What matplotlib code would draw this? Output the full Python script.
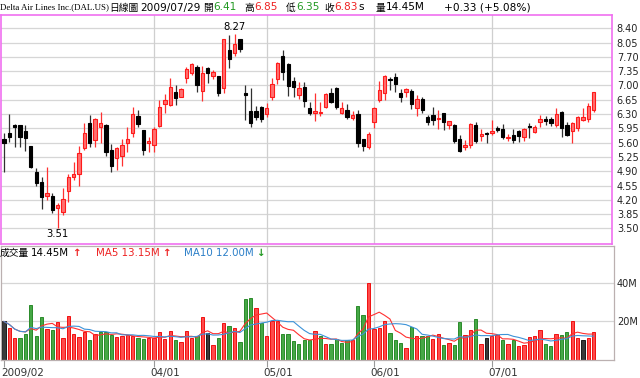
import numpy as np
import pandas as pd
import matplotlib
matplotlib.use("Agg")
import matplotlib.pyplot as plt
from matplotlib.transforms import blended_transform_factory

plt.rcParams['font.family'] = ['DejaVu Sans', 'Noto Sans CJK TC']

# trading days 2009-02-20 .. 2009-07-29 (NYSE holidays removed)
holidays = pd.to_datetime(["2009-04-10", "2009-05-25", "2009-07-03"])
dates = pd.bdate_range("2009-02-20", "2009-07-29")
dates = dates[~dates.isin(holidays)]

opens = [5.70, 5.83, 6.03, 6.03, 5.88, 5.52, 4.89, 4.64, 4.30, 4.29,
         4.00, 3.91, 4.42, 4.77, 4.83, 5.46, 6.07, 5.66, 5.99, 6.04,
         5.42, 5.22, 5.28, 5.59, 5.83, 6.25, 5.90, 5.59, 5.54, 6.01,
         6.55, 6.52, 6.85, 6.73, 7.19, 7.30, 7.45, 6.87, 7.44, 7.23,
         7.22, 6.93, 7.88, 7.80, 8.13, 6.82, 6.38, 6.38, 6.48, 6.29,
         6.73, 7.15, 7.72, 7.53, 7.12, 6.77, 6.97, 6.44, 6.32, 6.33,
         6.48, 6.81, 6.93, 6.32, 6.40, 6.20, 6.30, 5.68, 5.49, 6.11,
         6.64, 6.82, 7.15, 7.20, 6.81, 6.85, 6.87, 6.44, 6.68, 6.22,
         6.28, 6.17, 6.32, 6.04, 6.03, 5.68, 5.49, 5.54, 6.03, 5.76,
         5.82, 5.84, 5.97, 5.93, 5.71, 5.79, 5.89, 5.75, 6.01, 5.87,
         6.11, 6.17, 6.17, 6.03, 6.36, 6.03, 5.89, 5.95, 6.15, 6.17,
         6.41]
highs = [5.83, 6.30, 6.05, 6.03, 6.02, 5.52, 4.97, 4.77, 5.00, 4.36,
         4.11, 4.48, 4.83, 5.13, 5.52, 6.07, 6.28, 6.20, 6.36, 6.06,
         5.57, 5.50, 5.68, 5.99, 6.47, 6.40, 5.92, 5.75, 5.98, 6.65,
         6.79, 7.18, 7.01, 6.95, 7.46, 7.55, 7.50, 7.48, 7.46, 7.38,
         7.23, 8.15, 8.24, 8.27, 8.15, 7.01, 6.95, 6.49, 6.50, 6.56,
         7.18, 7.58, 7.88, 7.55, 7.20, 7.09, 7.09, 6.60, 6.81, 6.60,
         6.82, 6.93, 6.97, 6.60, 6.55, 6.38, 6.40, 5.70, 5.85, 6.48,
         7.12, 7.26, 7.20, 7.30, 6.91, 6.93, 6.91, 6.77, 6.72, 6.28,
         6.47, 6.40, 6.33, 6.12, 6.05, 5.79, 5.66, 6.09, 6.11, 5.93,
         5.87, 6.15, 6.01, 6.06, 5.81, 5.93, 5.91, 5.95, 6.09, 6.03,
         6.28, 6.26, 6.22, 6.44, 6.38, 6.11, 6.11, 6.25, 6.44, 6.56,
         6.85]
lows = [4.89, 5.62, 5.50, 5.50, 5.40, 4.97, 4.55, 3.97, 4.20, 3.87,
        3.51, 3.83, 4.15, 4.68, 4.54, 5.42, 5.50, 5.50, 5.58, 5.28,
        4.88, 4.92, 5.03, 5.38, 5.75, 5.98, 5.30, 5.38, 5.38, 5.98,
        6.32, 6.50, 6.52, 6.71, 7.07, 7.26, 6.85, 6.61, 7.05, 7.15,
        6.74, 6.81, 7.42, 7.71, 7.83, 6.16, 5.98, 6.16, 6.11, 6.24,
        6.65, 7.04, 7.13, 6.74, 6.71, 6.66, 6.48, 6.28, 6.14, 6.25,
        6.44, 6.56, 6.42, 6.30, 6.17, 6.15, 5.50, 5.40, 5.44, 5.97,
        6.60, 6.64, 6.89, 6.85, 6.60, 6.71, 6.42, 6.25, 6.33, 6.03,
        6.03, 5.93, 5.91, 5.94, 5.58, 5.36, 5.42, 5.46, 5.58, 5.65,
        5.58, 5.79, 5.87, 5.68, 5.63, 5.58, 5.62, 5.65, 5.71, 5.84,
        5.98, 6.03, 6.01, 5.99, 5.73, 5.76, 5.60, 5.89, 6.13, 6.11,
        6.35]
closes = [5.58, 5.73, 5.99, 5.73, 5.71, 5.01, 4.60, 4.28, 4.36, 3.95,
          4.08, 4.21, 4.75, 4.83, 5.35, 5.84, 5.58, 6.17, 6.09, 5.36,
          5.03, 5.46, 5.54, 5.69, 6.30, 6.06, 5.42, 5.65, 5.93, 6.47,
          6.65, 6.96, 6.69, 6.92, 7.40, 7.53, 7.01, 7.30, 7.30, 7.34,
          6.82, 8.13, 7.66, 8.02, 7.89, 6.76, 6.09, 6.22, 6.19, 6.44,
          7.04, 7.54, 7.34, 6.99, 6.97, 6.93, 6.63, 6.33, 6.38, 6.35,
          6.79, 6.60, 6.48, 6.46, 6.24, 6.28, 5.58, 5.52, 5.81, 6.44,
          6.89, 7.23, 7.13, 7.04, 6.71, 6.91, 6.55, 6.68, 6.40, 6.11,
          6.15, 6.20, 6.11, 6.12, 5.65, 5.40, 5.54, 6.06, 5.65, 5.81,
          5.81, 5.89, 5.90, 5.73, 5.75, 5.67, 5.76, 5.93, 5.98, 5.99,
          6.17, 6.13, 6.09, 6.30, 5.95, 5.79, 6.07, 6.22, 6.22, 6.50,
          6.83]
# volume in millions
volumes = [20.0, 16.8, 11.2, 11.2, 13.5, 28.8, 12.4, 22.3, 15.9, 15.6,
           19.5, 11.2, 23.0, 13.5, 11.7, 14.7, 10.0, 13.5, 14.7, 14.7,
           13.0, 11.7, 12.4, 13.0, 12.1, 11.2, 10.7, 11.2, 11.2, 14.7,
           10.7, 15.2, 10.0, 9.4, 15.2, 11.2, 12.6, 22.6, 13.8, 7.7,
           11.2, 19.1, 17.7, 16.5, 9.4, 31.8, 32.2, 27.0, 19.1, 12.1,
           20.0, 20.5, 13.3, 13.3, 9.8, 8.2, 10.0, 10.0, 15.2, 12.1,
           8.0, 8.0, 10.7, 8.5, 10.0, 10.0, 28.3, 23.5, 40.3, 15.9,
           16.5, 20.0, 13.8, 10.3, 8.5, 6.3, 17.0, 12.1, 12.1, 12.1,
           10.8, 13.3, 7.7, 8.5, 7.7, 19.6, 13.0, 15.6, 21.2, 8.0,
           11.2, 12.1, 13.0, 10.0, 8.0, 10.0, 7.3, 7.7, 11.7, 12.1,
           15.6, 8.0, 7.1, 13.3, 13.0, 14.4, 20.0, 11.2, 10.0, 11.2,
           14.45]

price_ticks = [3.50, 3.85, 4.20, 4.55, 4.90, 5.25, 5.60, 5.95, 6.30,
               6.65, 7.00, 7.35, 7.70, 8.05, 8.40]
month_days = ["2009-02-20", "2009-04-01", "2009-05-01", "2009-06-01", "2009-07-01"]
month_labels = ["2009/02", "04/01", "05/01", "06/01", "07/01"]

o = np.array(opens); h = np.array(highs); l = np.array(lows); c = np.array(closes)
v = np.array(volumes)
x = np.arange(len(dates))
up = c >= o
month_pos = [dates.get_loc(pd.Timestamp(d)) for d in month_days]

W, H = 640, 378
fig = plt.figure(figsize=(6.4, 3.78), dpi=100)
fig.patch.set_facecolor("white")

ax = fig.add_axes([1 / W, 1 - 244 / H, 611 / W, 229 / H])
axv = fig.add_axes([1 / W, 1 - 359.5 / H, 613 / W, 113.5 / H])

# ---- price pane ----
ax.set_xlim(-0.56, 113.4)
ax.set_ylim(3.118, 8.726)
for yv in price_ticks:
    ax.axhline(yv, color="#d6d6d6", lw=0.9, zorder=0)
for p in month_pos[1:]:
    ax.axvline(p, color="#cfcfcf", lw=0.9, zorder=0)

wick_col = np.where(up, "#ff3030", "#303030")
ax.vlines(x, l, h, colors=wick_col, lw=0.9, zorder=2)
body_h = np.maximum(np.abs(c - o), 0.02)
ax.bar(x[up], body_h[up], bottom=np.minimum(o, c)[up], width=0.62,
       color="#ff7070", edgecolor="#ff1a1a", lw=0.8, zorder=3)
ax.bar(x[~up], body_h[~up], bottom=np.minimum(o, c)[~up], width=0.62,
       color="#000000", edgecolor="#000000", lw=0.8, zorder=3)

ih = int(np.argmax(h)); il = int(np.argmin(l))
ax.text(ih, h[ih] + 0.03, f"{h[ih]:.2f}", ha="center", va="bottom", fontsize=7.2)
ax.text(il, l[il] - 0.03, f"{l[il]:.2f}", ha="center", va="top", fontsize=7.2)

ax.yaxis.tick_right()
ax.set_yticks(price_ticks)
ax.set_yticklabels([f"{t:.2f}" for t in price_ticks], fontsize=7, color="#222222")
ax.tick_params(axis="y", length=0, pad=3.5)
ax.set_xticks([])
for s in ax.spines.values():
    s.set_color("#f070f0")
    s.set_linewidth(1.2)

# ---- volume pane ----
axv.set_xlim(-0.56, 113.8)
axv.set_ylim(0, 59.7)
for yv in [20, 40]:
    axv.axhline(yv, color="#d6d6d6", lw=0.9, zorder=0)
for p in month_pos[1:]:
    axv.axvline(p, color="#cfcfcf", lw=0.9, zorder=0)

prev = np.r_[c[0], c[:-1]]
vface = np.where(c > prev, "#ff4a4a", np.where(c < prev, "#46a846", "#3a3a3a"))
vedge = np.where(c > prev, "#f01010", np.where(c < prev, "#2a8a2a", "#1a1a1a"))
axv.bar(x, v, width=0.62, color=vface, edgecolor=vedge, lw=0.7, zorder=2)

ma5 = pd.Series(v).rolling(5, min_periods=1).mean()
ma10 = pd.Series(v).rolling(10, min_periods=1).mean()
axv.plot(x, ma5, color="#ff3030", lw=0.8, zorder=3)
axv.plot(x, ma10, color="#3d93d8", lw=0.8, zorder=3)

axv.yaxis.tick_right()
axv.set_yticks([20, 40])
axv.set_yticklabels(["20M", "40M"], fontsize=7, color="#222222")
axv.tick_params(axis="y", length=0, pad=2)
axv.set_xticks(month_pos)
axv.set_xticklabels([])
axv.tick_params(axis="x", length=5, color="#999999")
tr = blended_transform_factory(axv.transData, axv.transAxes)
for p, lab in zip(month_pos, month_labels):
    axv.text(p - 0.6, -0.116, lab, transform=tr, ha="left", va="center",
             fontsize=7.5, color="#333333")
for s in axv.spines.values():
    s.set_color("#bbb0b0")
    s.set_linewidth(0.9)

# ---- header ----
def ftext(px, py, s, **kw):
    fig.text(px / W, 1 - py / H, s, va="center", ha="left", **kw)

ftext(0, 7.5, "Delta Air Lines Inc.(DAL.US)", fontsize=6.4, family="Liberation Serif")
ftext(109, 7.5, "日線圖", fontsize=7, family=["Noto Sans CJK TC"])
ftext(140, 7.5, "2009/07/29", fontsize=7.6)
ftext(203, 7.5, "開", fontsize=7, family=["Noto Sans CJK TC"])
ftext(213, 7.5, "6.41", fontsize=7.6, color="#229922")
ftext(244, 7.5, "高", fontsize=7, family=["Noto Sans CJK TC"])
ftext(254, 7.5, "6.85", fontsize=7.6, color="#ee2222")
ftext(286, 7.5, "低", fontsize=7, family=["Noto Sans CJK TC"])
ftext(296, 7.5, "6.35", fontsize=7.6, color="#229922")
ftext(324, 7.5, "收", fontsize=7, family=["Noto Sans CJK TC"])
ftext(334, 7.5, "6.83", fontsize=7.6, color="#ee2222")
ftext(358, 7.5, "s", fontsize=7.6)
ftext(376, 7.5, "量", fontsize=7, family=["Noto Sans CJK TC"])
ftext(386, 7.5, "14.45M", fontsize=7.6)
ftext(444, 7.5, "+0.33 (+5.08%)", fontsize=7.6)

# ---- volume legend ----
ftext(0, 253, "成交量", fontsize=7, family=["Noto Sans CJK TC"])
ftext(31, 253, "14.45M", fontsize=7.4)
ftext(72, 253, "↑", fontsize=7.4, color="#ee2222", weight="bold")
ftext(96, 253, "MA5 13.15M", fontsize=7.4, color="#ee2222")
ftext(162, 253, "↑", fontsize=7.4, color="#ee2222", weight="bold")
ftext(184, 253, "MA10 12.00M", fontsize=7.4, color="#2b7fc8")
ftext(256, 253, "↓", fontsize=7.4, color="#229922", weight="bold")

fig.savefig("out.png", dpi=100)
